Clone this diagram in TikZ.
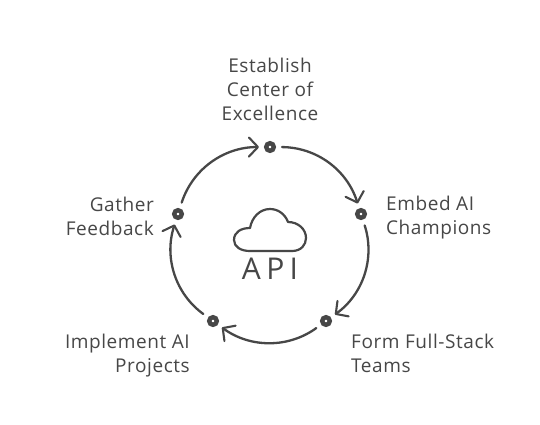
\documentclass[tikz,border=0pt]{standalone}
\usepackage{fontspec}
\setmainfont{Open Sans}[LetterSpace=3]
\usetikzlibrary{arrows.meta}
\definecolor{ink}{HTML}{474747}
\tikzset{
  x=1pt,y=-1pt,
  dot/.style={circle,draw=ink,fill=white,line width=4.4pt,minimum size=7.6pt,inner sep=0pt},
  lab/.style={text=ink,font=\fontsize{19}{24}\selectfont,inner sep=0pt},
  flow/.style={draw=ink,line width=2.3pt,line cap=round,bend left=36,shorten <=6pt,shorten >=5pt,
    -{Straight Barb[length=9pt,width=19pt,line width=2.1pt,round]}},
}
\begin{document}
\begin{tikzpicture}
\useasboundingbox (0,0) rectangle (540,424);
\fill[white] (0,0) rectangle (540,424);
\node[dot] (top) at (270,147) {};
\node[dot] (right) at (361,214) {};
\node[dot] (br) at (326,321) {};
\node[dot] (bl) at (213,321) {};
\node[dot] (left) at (178,214) {};
\path[flow] (top) to (right);
\path[flow] (right) to (br);
\path[flow] (br) to (bl);
\path[flow] (bl) to (left);
\path[flow] (left) to (top);
\node[lab,align=center] (l1) at (270,89) {Establish\\Center of\\Excellence};
\node[lab,align=left,anchor=west] (l2) at (386,218) {Embed AI\\Champions};
\node[lab,align=left,anchor=west] (l3) at (351,353) {Form Full-Stack\\Teams};
\node[lab,align=right,anchor=east] (l4) at (190,356) {Implement AI\\Projects};
\node[lab,align=right,anchor=east] (l5) at (154,216) {Gather\\Feedback};
\draw[ink,line width=2.2pt,line join=round] (250,251) -- (292,251)
  .. controls (301,251) and (306,245) .. (306,238)
  .. controls (306,229) and (298,222) .. (288,222)
  .. controls (285,214) and (278,209) .. (270,209)
  .. controls (260,209) and (252,217) .. (250,228)
  .. controls (241,228) and (234,232) .. (234,240)
  .. controls (234,247) and (241,251) .. (250,251) -- cycle;
\node[text=ink,font=\fontsize{30}{30}\selectfont,inner sep=0pt] (api) at (270,269) {\addfontfeature{LetterSpace=18}API};
\end{tikzpicture}
\end{document}
